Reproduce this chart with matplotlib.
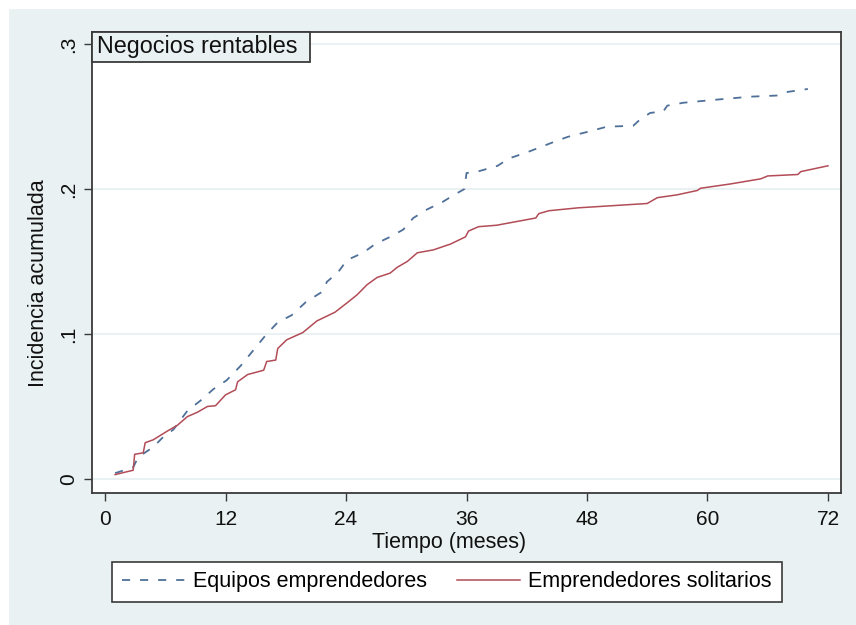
import numpy as np
import matplotlib
matplotlib.use('Agg')
import matplotlib.pyplot as plt
from matplotlib.patches import Rectangle

plt.rcParams['font.family'] = ['Liberation Sans', 'DejaVu Sans']

## cumulative incidence (months, share)
t_equipos = [1, 2.8, 3.3, 4.8, 5.8, 6.8, 8.2, 9.5, 10.8, 12.1, 13.5, 14.8, 16.1, 17.2, 18.6,
             20.0, 21.6, 22.1, 23.2, 24.1, 25.7, 26.9, 28.4, 29.7, 30.7, 32.1, 33.6, 34.9,
             35.8, 36.0, 37.1, 39.1, 40.2, 42.1, 44.9, 46.1, 48.1, 50.0, 52.6, 53.3, 54.3,
             55.6, 56.0, 57.6, 61.0, 64.3, 67.0, 68.0, 70.0]
v_equipos = [.004, .008, .015, .022, .029, .034, .047, .054, .062, .068, .078, .089, .100,
             .108, .113, .122, .129, .136, .1425, .151, .156, .162, .167, .172, .180, .186,
             .191, .1965, .200, .211, .212, .216, .221, .2255, .233, .236, .2395, .243,
             .2436, .248, .2525, .2535, .2575, .2595, .2617, .2637, .2645, .267, .269]

t_solitarios = [1, 2.8, 2.95, 3.8, 4.0, 4.8, 6.2, 7.2, 8.2, 9.2, 10.2, 11, 12, 13, 13.2, 14.2,
                15.8, 16.1, 17, 17.2, 18.1, 19.7, 21.1, 22.9, 24.2, 25.1, 26.1, 27.1, 28.4,
                29.1, 30.1, 31.1, 32.7, 34.4, 35.9, 36.2, 37.2, 39.0, 42.9, 43.2, 44.2, 47.1,
                54.0, 55.0, 57.0, 59.0, 59.3, 62.3, 65.3, 66.0, 69.0, 69.3, 72.0]
v_solitarios = [.003, .006, .017, .018, .025, .027, .033, .037, .043, .046, .050, .0505, .058,
                .0615, .067, .072, .075, .081, .082, .090, .096, .101, .109, .115, .122, .127,
                .134, .139, .142, .146, .150, .156, .158, .162, .167, .171, .174, .175, .180,
                .183, .185, .187, .190, .194, .196, .199, .2005, .2035, .207, .209, .210,
                .212, .216]

x_ticks = [0, 12, 24, 36, 48, 60, 72]
y_ticks = [0, 0.1, 0.2, 0.3]
y_ticklabels = ['0', '.1', '.2', '.3']

bg = '#e9f1f2'
dark = '#3a3a3a'
blue = '#4f7098'
red = '#b24c57'

fig = plt.figure(figsize=(8.56, 6.25), dpi=100, facecolor='white')
fig.patches.append(Rectangle((9/856, 0), 1, 1 - 9/625, transform=fig.transFigure,
                             facecolor=bg, edgecolor='none', zorder=-10))

ax = fig.add_axes([92/856, 1 - 493/625, 749/856, 461/625])
ax.set_facecolor('white')

ax.plot(t_equipos, v_equipos, color=blue, lw=1.3, dashes=(4.5, 5.5), label='Equipos emprendedores')
ax.plot(t_solitarios, v_solitarios, color=red, lw=1.1, label='Emprendedores solitarios')

ax.set_xlim(-1.3, 73.3)
ax.set_ylim(-0.0097, 0.3083)
ax.set_xticks(x_ticks)
ax.set_yticks(y_ticks)
ax.set_yticklabels(y_ticklabels, rotation=90, va='center')
ax.tick_params(axis='both', direction='out', length=6, width=1, color=dark, labelsize=15, labelcolor='#111111')
ax.tick_params(axis='x', pad=6)
ax.tick_params(axis='y', pad=4)
ax.yaxis.grid(True, color='#e6eff0', lw=1.2)
ax.set_axisbelow(True)
for s in ax.spines.values():
    s.set_color(dark)
    s.set_linewidth(1.3)

ax.set_xlabel('Tiempo (meses)', fontsize=15.5, color='#111111')
ax.xaxis.set_label_coords(0.4766, -0.085)
ax.set_ylabel('Incidencia acumulada', fontsize=15.5, color='#111111')
ax.yaxis.set_label_coords(-0.058, 0.4555)

# title box in the top-left corner
ax.add_patch(Rectangle((0, 1 - 30/461), 218/749, 30/461, transform=ax.transAxes,
                       facecolor=bg, edgecolor=dark, lw=1.3, zorder=5, clip_on=False))
ax.text(5/749, 1 - 15/461, 'Negocios rentables', transform=ax.transAxes, fontsize=16.8,
        ha='left', va='center', color='#111111', zorder=6)

leg = fig.legend(loc='center', bbox_to_anchor=(447/856, 1 - 582/625), ncol=2, fontsize=15.5,
                 frameon=True, fancybox=False, edgecolor=dark, facecolor='white', framealpha=1,
                 handlelength=2.9, handletextpad=0.4, columnspacing=1.4, borderpad=0.45)
leg.get_frame().set_linewidth(1.2)

fig.savefig('out.png', dpi=100, facecolor=fig.get_facecolor())
